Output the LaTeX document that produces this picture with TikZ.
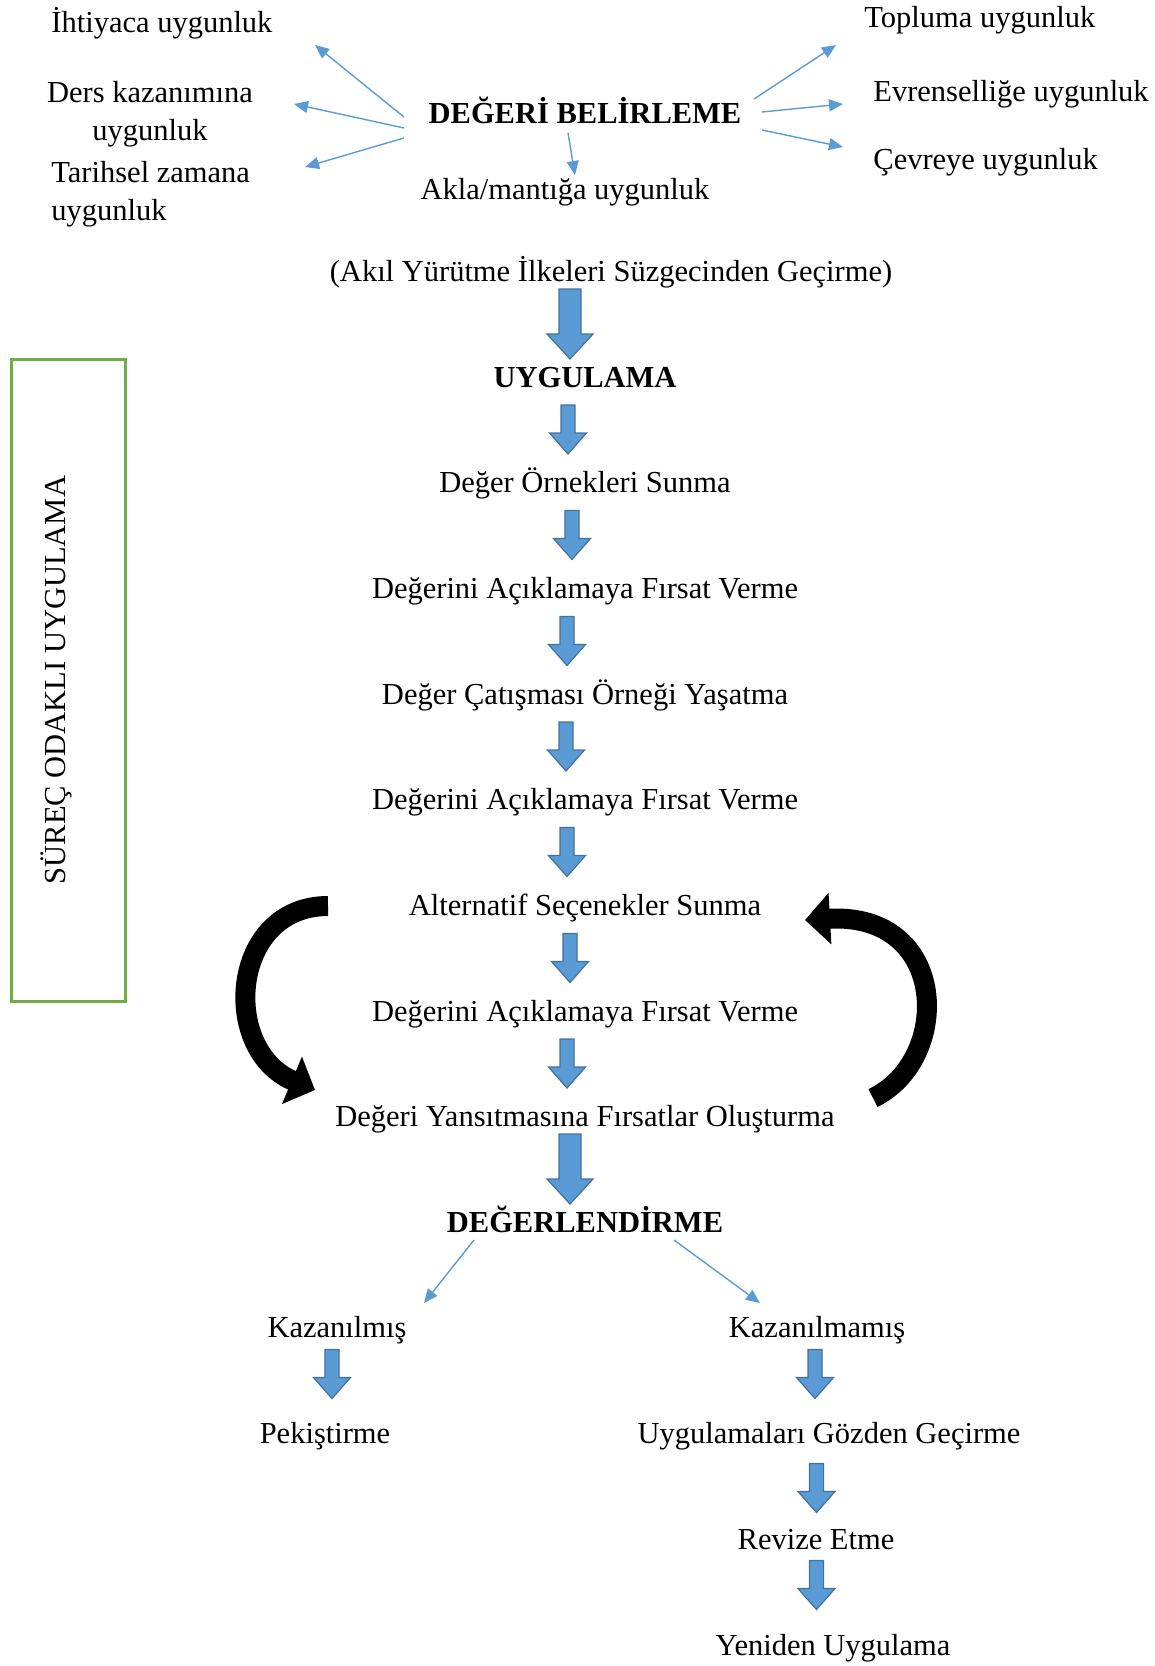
\documentclass[tikz,border=0pt]{standalone}
\usepackage{fontspec}
\setmainfont{Liberation Serif}
\usetikzlibrary{calc,arrows.meta}

\definecolor{blueFill}{HTML}{5B9BD5}
\definecolor{blueLine}{HTML}{41719C}
\definecolor{greenBox}{HTML}{70AD47}

\tikzset{
  txt/.style={inner sep=0pt, anchor=base, font=\fontsize{15.25}{19}\selectfont},
  txtb/.style={txt, font=\fontsize{15.25}{19}\selectfont\bfseries},
  thinarrow/.style={draw=blueFill, line width=0.7pt, -{Triangle[length=7pt,width=6pt]}},
  curvedarrow/.style={draw=black, line width=10pt, -{Triangle[length=12.5pt,width=25pt]}},
  blockarrow/.style={fill=blueFill, draw=blueLine, line width=0.6pt, line join=miter},
  pics/bigdown/.style={code={%
    \draw[blockarrow] (-11,-35) -- (11,-35) -- (11,10) -- (23,10) -- (0,35) -- (-23,10) -- (-11,10) -- cycle;}},
  pics/smalldown/.style={code={%
    \draw[blockarrow] (-7,-24.5) -- (7,-24.5) -- (7,3.5) -- (18.5,3.5) -- (0,24.5) -- (-18.5,3.5) -- (-7,3.5) -- cycle;}},
}

\begin{document}
\begin{tikzpicture}[x=0.5pt,y=-0.5pt]
		%%%%% START %%%%%
		\useasboundingbox (0,0) rectangle (1155,1666);
		
		% degeri belirleme
		\node[txt, anchor=base west] (ihtiyac) at (51,32) {İhtiyaca uygunluk};
		\node[txt, align=center] (ders) at (150,140) {Ders kazanımına\\uygunluk};
		\node[txt, anchor=base west, align=left] (tarihsel) at (51,220) {Tarihsel zamana\\uygunluk};
		\node[txtb] (belirle) at (585,123) {DEĞERİ BELİRLEME};
		\node[txt] (akla) at (565,199) {Akla/mantığa uygunluk};
		\node[txt, anchor=base west] (topluma) at (864,27) {Topluma uygunluk};
		\node[txt, anchor=base west] (evrensel) at (873,101) {Evrenselliğe uygunluk};
		\node[txt, anchor=base west] (cevre) at (873,169) {Çevreye uygunluk};
		\node[txt] (akil) at (611,281) {(Akıl Yürütme İlkeleri Süzgecinden Geçirme)};
		
		\coordinate (bL1) at (404,117); \coordinate (ihtiyacIn) at (315,45);
		\coordinate (bL2) at (404,128); \coordinate (dersIn) at (294,104);
		\coordinate (bL3) at (404,138); \coordinate (tarihselIn) at (305,167);
		\coordinate (bD) at (568,133); \coordinate (aklaIn) at (575,175);
		\coordinate (bR1) at (754,99); \coordinate (toplumaIn) at (836,45);
		\coordinate (bR2) at (762,112); \coordinate (evrenselIn) at (843,104);
		\coordinate (bR3) at (762,130); \coordinate (cevreIn) at (843,147);
		\draw[thinarrow] (bL1) -- (ihtiyacIn);
		\draw[thinarrow] (bL2) -- (dersIn);
		\draw[thinarrow] (bL3) -- (tarihselIn);
		\draw[thinarrow] (bD) -- (aklaIn);
		\draw[thinarrow] (bR1) -- (toplumaIn);
		\draw[thinarrow] (bR2) -- (evrenselIn);
		\draw[thinarrow] (bR3) -- (cevreIn);
		
		% uygulama
		\node[txtb] (uygulama) at (585,387) {UYGULAMA};
		\node[txt] (ornek) at (585,492) {Değer Örnekleri Sunma};
		\node[txt] (acik1) at (585,598) {Değerini Açıklamaya Fırsat Verme};
		\node[txt] (catisma) at (585,704) {Değer Çatışması Örneği Yaşatma};
		\node[txt] (acik2) at (585,809) {Değerini Açıklamaya Fırsat Verme};
		\node[txt] (alternatif) at (585,915) {Alternatif Seçenekler Sunma};
		\node[txt] (acik3) at (585,1021) {Değerini Açıklamaya Fırsat Verme};
		\node[txt] (yansit) at (585,1126) {Değeri Yansıtmasına Fırsatlar Oluşturma};
		
		\pic at ($(akil.base)!.5!(uygulama.base)+(-28,-10)$) {bigdown};
		\pic at ($(uygulama.base)!.5!(ornek.base)+(-17,-10)$) {smalldown};
		\pic at ($(ornek.base)!.5!(acik1.base)+(-13,-10)$) {smalldown};
		\pic at ($(acik1.base)!.5!(catisma.base)+(-18,-10)$) {smalldown};
		\pic at ($(catisma.base)!.5!(acik2.base)+(-19,-10)$) {smalldown};
		\pic at ($(acik2.base)!.5!(alternatif.base)+(-18,-10)$) {smalldown};
		\pic at ($(alternatif.base)!.5!(acik3.base)+(-15,-10)$) {smalldown};
		\pic at ($(acik3.base)!.5!(yansit.base)+(-18,-10)$) {smalldown};
		
		% donus oklari
		\coordinate (solKuyruk) at (328,906); \coordinate (solUc) at (315,1090);
		\coordinate (sagKuyruk) at (873,1098); \coordinate (sagUc) at (805,920);
		\draw[curvedarrow] (solKuyruk) .. controls (230,906) and (220,1050) .. (solUc);
		\draw[curvedarrow] (sagKuyruk) .. controls (952,1060) and (950,912) .. (sagUc);
		
		% surec kutusu
		\draw[greenBox, line width=1.5pt] (11,359) rectangle (125,1001);
		\node[txt, anchor=center, rotate=90] (surec) at (56,680) {SÜREÇ ODAKLI UYGULAMA};
		
		% degerlendirme
		\node[txtb] (degerlendirme) at (585,1232) {DEĞERLENDİRME};
		\pic at ($(yansit.base)!.5!(degerlendirme.base)+(-15,-10)$) {bigdown};
		
		\node[txt] (kazanilmis) at (337,1337) {Kazanılmış};
		\node[txt] (pekistirme) at (325,1443) {Pekiştirme};
		\node[txt] (kazanilmamis) at (817,1337) {Kazanılmamış};
		\node[txt] (gozden) at (829,1443) {Uygulamaları Gözden Geçirme};
		\node[txt] (revize) at (816,1549) {Revize Etme};
		\node[txt] (yeniden) at (833,1655) {Yeniden Uygulama};
		
		\coordinate (dL) at (474,1240); \coordinate (kazanilmisIn) at (424,1303);
		\coordinate (dR) at (674,1240); \coordinate (kazanilmamisIn) at (760,1303);
		\draw[thinarrow] (dL) -- (kazanilmisIn);
		\draw[thinarrow] (dR) -- (kazanilmamisIn);
		
		\pic at ($(kazanilmis.base)!.5!(pekistirme.base)+(1,-16)$) {smalldown};
		\pic at ($(kazanilmamis.base)!.5!(gozden.base)+(-8,-16)$) {smalldown};
		\pic at ($(gozden.base)!.5!(revize.base)+(-6,-8)$) {smalldown};
		\pic at ($(revize.base)!.5!(yeniden.base)+(-8,-17)$) {smalldown};
		
		%%%%% END %%%%%
\end{tikzpicture}
\end{document}
